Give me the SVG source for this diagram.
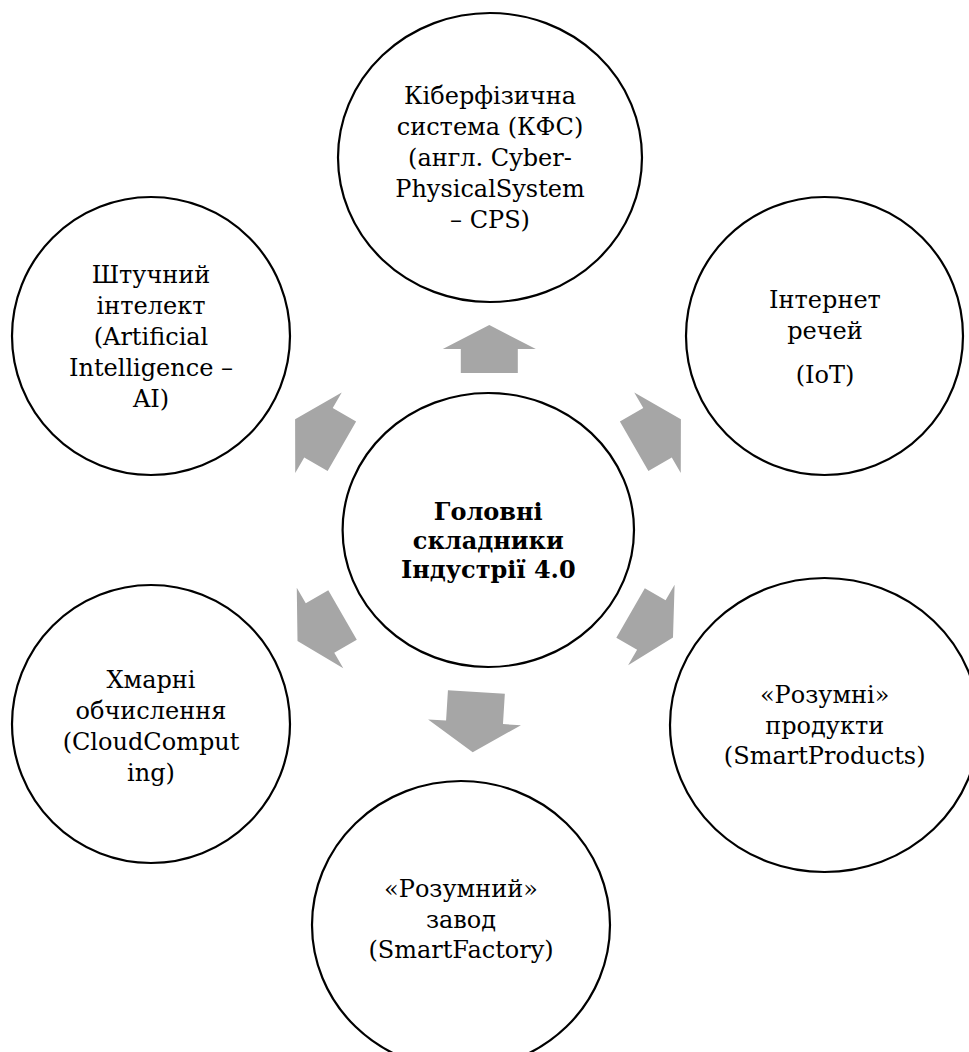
<svg xmlns="http://www.w3.org/2000/svg" width="969" height="1052" viewBox="0 0 969 1052">
<style>
.node ellipse { fill:#ffffff; stroke:#000000; stroke-width:2.2; }
.lbl { font-family:"DejaVu Serif","Liberation Serif",serif; font-size:24px; fill:#000000; text-anchor:middle; }
.bold { font-weight:bold; }
.arrow { fill:#A6A6A6; stroke:none; }
</style>
<rect width="969" height="1052" fill="#ffffff"/>
<g id="connectors">
<polygon class="arrow" points="0,0 -24,-46.5 -24,-28.5 -48,-28.5 -48,28.5 -24,28.5 -24,46.5" transform="translate(489.3,325) rotate(-90)"/>
<polygon class="arrow" points="0,0 -27,-46.5 -27,-28.5 -54,-28.5 -54,28.5 -27,28.5 -27,46.5" transform="translate(680.9,419.2) rotate(-30)"/>
<polygon class="arrow" points="0,0 -27,-46.5 -27,-28.5 -54,-28.5 -54,28.5 -27,28.5 -27,46.5" transform="translate(295.1,419.2) rotate(-150)"/>
<polygon class="arrow" points="0,0 -25,-46.5 -25,-28.5 -49,-28.5 -49,28.5 -25,28.5 -25,46.5" transform="translate(673,637.5) rotate(30)"/>
<polygon class="arrow" points="0,0 -26,-46.5 -26,-28.5 -52,-28.5 -52,28.5 -26,28.5 -26,46.5" transform="translate(297.5,641) rotate(150)"/>
<polygon class="arrow" points="0,0 -30,-46.5 -30,-28.5 -60.5,-28.5 -60.5,28.5 -30,28.5 -30,46.5" transform="translate(472.7,752.3) rotate(93.5)"/>
</g>
<g id="node-center" class="node">
<ellipse cx="488.3" cy="530" rx="145.7" ry="137"/>
<text class="lbl bold" x="488.3" y="520">Головні</text>
<text class="lbl bold" x="488.3" y="549">складники</text>
<text class="lbl bold" x="488.3" y="578">Індустрії 4.0</text>
</g>
<g id="node-cps" class="node">
<ellipse cx="490" cy="157.5" rx="152" ry="144.5"/>
<text class="lbl" x="490" y="104">Кіберфізична</text>
<text class="lbl" x="490" y="135">система (КФС)</text>
<text class="lbl" x="490" y="166">(англ. Cyber-</text>
<text class="lbl" x="490" y="197">PhysicalSystem</text>
<text class="lbl" x="490" y="228">– CPS)</text>
</g>
<g id="node-iot" class="node">
<ellipse cx="824.5" cy="336" rx="138.5" ry="139"/>
<text class="lbl" x="825" y="308">Інтернет</text>
<text class="lbl" x="825" y="339">речей</text>
<text class="lbl" x="825" y="383">(IoT)</text>
</g>
<g id="node-ai" class="node">
<ellipse cx="151" cy="336" rx="139" ry="139"/>
<text class="lbl" x="151" y="283">Штучний</text>
<text class="lbl" x="151" y="314">інтелект</text>
<text class="lbl" x="151" y="345">(Artificial</text>
<text class="lbl" x="151" y="376">Intelligence –</text>
<text class="lbl" x="151" y="407">AI)</text>
</g>
<g id="node-cloud" class="node">
<ellipse cx="151" cy="724" rx="139" ry="139"/>
<text class="lbl" x="151" y="688">Хмарні</text>
<text class="lbl" x="151" y="719">обчислення</text>
<text class="lbl" x="151" y="750">(CloudComput</text>
<text class="lbl" x="151" y="781">ing)</text>
</g>
<g id="node-products" class="node">
<ellipse cx="824.5" cy="725" rx="154.5" ry="147"/>
<text class="lbl" x="824.7" y="703">«Розумні»</text>
<text class="lbl" x="824.7" y="734">продукти</text>
<text class="lbl" x="824.7" y="764">(SmartProducts)</text>
</g>
<g id="node-factory" class="node">
<ellipse cx="461" cy="925" rx="149" ry="144"/>
<text class="lbl" x="461" y="897">«Розумний»</text>
<text class="lbl" x="461" y="928">завод</text>
<text class="lbl" x="461" y="958">(SmartFactory)</text>
</g>
</svg>
